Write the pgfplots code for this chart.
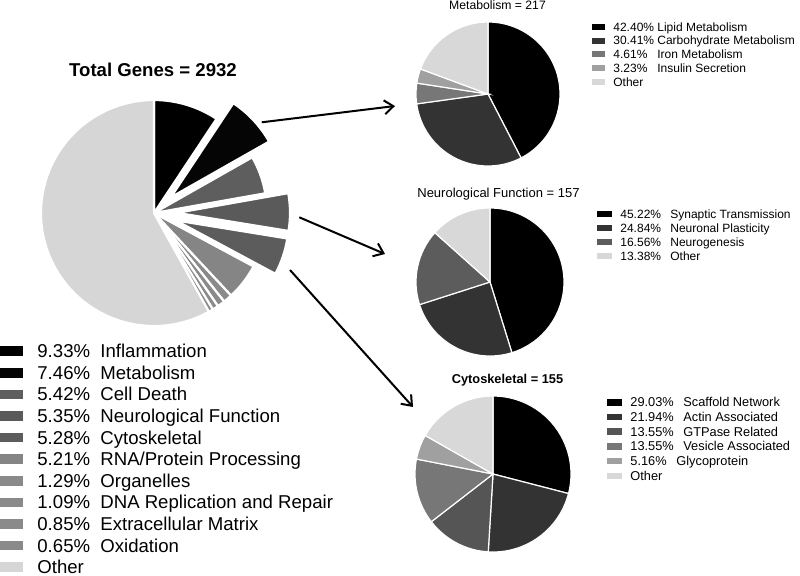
\documentclass[border=0pt]{standalone}
\usepackage{pgfplots}
\pgfplotsset{compat=1.18}
\usepackage{fontspec}
\setmainfont{Liberation Sans}
\usetikzlibrary{arrows.meta}

% grey levels of the slices
\definecolor{cInf}{HTML}{000000}
\definecolor{cMet}{HTML}{050505}
\definecolor{cCell}{HTML}{5E5E5E}
\definecolor{cNeu}{HTML}{5A5A5A}
\definecolor{cCyt}{HTML}{5C5C5C}
\definecolor{cRna}{HTML}{858585}
\definecolor{cSmall}{HTML}{8A8A8A}
\definecolor{cOth}{HTML}{D6D6D6}
\definecolor{gA}{HTML}{000000}
\definecolor{gB}{HTML}{333333}
\definecolor{gC}{HTML}{555555}
\definecolor{gD}{HTML}{777777}
\definecolor{gE}{HTML}{A0A0A0}
\definecolor{gF}{HTML}{D8D8D8}

% pie helpers: centre and radius in pixels of the 800x575 canvas
\newcommand\pieinit[3]{\gdef\pcx{#1}\gdef\pcy{#2}\gdef\prad{#3}\gdef\pacc{0}}
\newcommand\pieslice[3][0]{%
  \pgfmathsetmacro\slA{90-3.6*\pacc}%
  \pgfmathsetmacro\slD{-3.6*#2}%
  \pgfmathsetmacro\slM{\slA+\slD/2}%
  \filldraw[fill=#3,draw=white,line width=\pielw] (axis cs:\pcx,\pcy) ++(\slM:#1*0.5pt)
    -- ++(\slA:\prad*0.5pt) arc[start angle=\slA,delta angle=\slD,radius=\prad*0.5pt] -- cycle;
  \pgfmathsetmacro\slN{\pacc+#2}\xdef\pacc{\slN}}
\newcommand\pierest[1]{\pgfmathsetmacro\slR{100-\pacc}\pieslice{\slR}{#1}}

% legend rows
\newcommand\legrow[4]{%
  \pgfmathsetmacro\rb{\Ly+\Ldy*#1}%
  \pgfmathsetmacro\ra{\rb-0.7*\Lfs-\Lsh/2}%
  \pgfmathsetmacro\rc{\rb-0.7*\Lfs+\Lsh/2}%
  \fill[#2] (axis cs:\Lsx,\ra) rectangle (axis cs:\Lsr,\rc);
  \node[anchor=base west,inner sep=0pt,font=\fontsize{\Lfs}{\Lfs}\selectfont] at (axis cs:\Lpx,\rb) {#3};
  \node[anchor=base west,inner sep=0pt,font=\fontsize{\Lfs}{\Lfs}\selectfont] at (axis cs:\Llx,\rb) {#4};}

\begin{document}
\begin{tikzpicture}
\begin{axis}[name=main, x=0.5pt, y=0.5pt, xmin=0, xmax=800, ymin=0, ymax=575,
  y dir=reverse, hide axis, clip=false]
\pgfplotsextra{%
  % total genes
  \def\pielw{1.1pt}%
  \pieinit{154}{213}{113}%
  \pieslice{9.33}{cInf}%
  \pieslice[23]{7.46}{cMet}%
  \pieslice{5.42}{cCell}%
  \pieslice[23]{5.35}{cNeu}%
  \pieslice[23]{5.28}{cCyt}%
  \pieslice{5.21}{cRna}%
  \pieslice{1.29}{cSmall}%
  \pieslice{1.09}{cSmall}%
  \pieslice{0.85}{cSmall}%
  \pieslice{0.65}{cSmall}%
  \pierest{cOth}%
  % metabolism
  \def\pielw{0.6pt}%
  \pieinit{488}{94}{72}%
  \pieslice{42.40}{gA}%
  \pieslice{30.41}{gB}%
  \pieslice{4.61}{gD}%
  \pieslice{3.23}{gE}%
  \pierest{gF}%
  % neurological function
  \pieinit{490}{282}{74}%
  \pieslice{45.22}{gA}%
  \pieslice{24.84}{gB}%
  \pieslice{16.56}{gC!80!gD}%
  \pieslice{13.38}{gF}%
  % cytoskeletal
  \pieinit{493}{474}{78}%
  \pieslice{29.03}{gA}%
  \pieslice{21.94}{gB}%
  \pieslice{13.55}{gC}%
  \pieslice{13.55}{gD}%
  \pieslice{5.16}{gE}%
  \pierest{gF}%
  % titles
  \node[anchor=base,inner sep=0pt,font=\bfseries\fontsize{9.3}{10}\selectfont] at (axis cs:153,76.7) {Total Genes = 2932};
  \node[anchor=base,inner sep=0pt,font=\fontsize{6.1}{7}\selectfont] at (axis cs:497.5,9.3) {Metabolism = 217};
  \node[anchor=base,inner sep=0pt,font=\fontsize{6.5}{7}\selectfont] at (axis cs:498.5,197) {Neurological Function = 157};
  \node[anchor=base,inner sep=0pt,font=\bfseries\fontsize{6.4}{7}\selectfont] at (axis cs:507.5,383.3) {Cytoskeletal = 155};
  % arrows
  \draw[line width=1pt,-{Straight Barb[length=4.5pt,width=7pt]}] (axis cs:261.7,122.3) -- (axis cs:395,106);
  \draw[line width=1pt,-{Straight Barb[length=4.5pt,width=7pt]}] (axis cs:299.3,217.3) -- (axis cs:385,254);
  \draw[line width=1pt,-{Straight Barb[length=4.5pt,width=7pt]}] (axis cs:290,270) -- (axis cs:413,407);
  % main legend
  \def\Lsx{0}\def\Lsr{22.7}\def\Ly{357.7}\def\Ldy{21.6}\def\Lsh{9.5}\def\Lpx{37}\def\Llx{100}\def\Lfs{9.3}%
  \legrow{0}{cInf}{9.33\%}{Inflammation}%
  \legrow{1}{cMet}{7.46\%}{Metabolism}%
  \legrow{2}{cCell}{5.42\%}{Cell Death}%
  \legrow{3}{cNeu}{5.35\%}{Neurological Function}%
  \legrow{4}{cCyt}{5.28\%}{Cytoskeletal}%
  \legrow{5}{cRna}{5.21\%}{RNA/Protein Processing}%
  \legrow{6}{cSmall}{1.29\%}{Organelles}%
  \legrow{7}{cSmall}{1.09\%}{DNA Replication and Repair}%
  \legrow{8}{cSmall}{0.85\%}{Extracellular Matrix}%
  \legrow{9}{cSmall}{0.65\%}{Oxidation}%
  \legrow{10}{cOth}{Other}{}%
  % metabolism legend
  \def\Lsx{592}\def\Lsr{605}\def\Ly{31}\def\Ldy{13.75}\def\Lsh{6}\def\Lpx{613}\def\Llx{657}\def\Lfs{6}%
  \legrow{0}{gA}{42.40\%}{Lipid Metabolism}%
  \legrow{1}{gB}{30.41\%}{Carbohydrate Metabolism}%
  \legrow{2}{gD}{4.61\%}{Iron Metabolism}%
  \legrow{3}{gE}{3.23\%}{Insulin Secretion}%
  \legrow{4}{gF}{Other}{}%
  % neurological legend
  \def\Lsx{597}\def\Lsr{611.7}\def\Ly{218.5}\def\Ldy{13.9}\def\Lsh{6}\def\Lpx{620}\def\Llx{670}\def\Lfs{6}%
  \legrow{0}{gA}{45.22\%}{Synaptic Transmission}%
  \legrow{1}{gB}{24.84\%}{Neuronal Plasticity}%
  \legrow{2}{gC!80!gD}{16.56\%}{Neurogenesis}%
  \legrow{3}{gF}{13.38\%}{Other}%
  % cytoskeletal legend
  \def\Lsx{607}\def\Lsr{622}\def\Ly{406.8}\def\Ldy{14.7}\def\Lsh{6.5}\def\Lpx{630}\def\Llx{683}\def\Lfs{6.4}%
  \legrow{0}{gA}{29.03\%}{Scaffold Network}%
  \legrow{1}{gB}{21.94\%}{Actin Associated}%
  \legrow{2}{gC}{13.55\%}{GTPase Related}%
  \legrow{3}{gD}{13.55\%}{Vesicle Associated}%
  \legrow{4}{gE}{5.16\%}{\hspace{-3.5pt}Glycoprotein}%
  \legrow{5}{gF}{Other}{}%
}
\end{axis}
\pgfresetboundingbox
\path[use as bounding box] (main.south west) rectangle (main.north east);
\end{tikzpicture}
\end{document}
